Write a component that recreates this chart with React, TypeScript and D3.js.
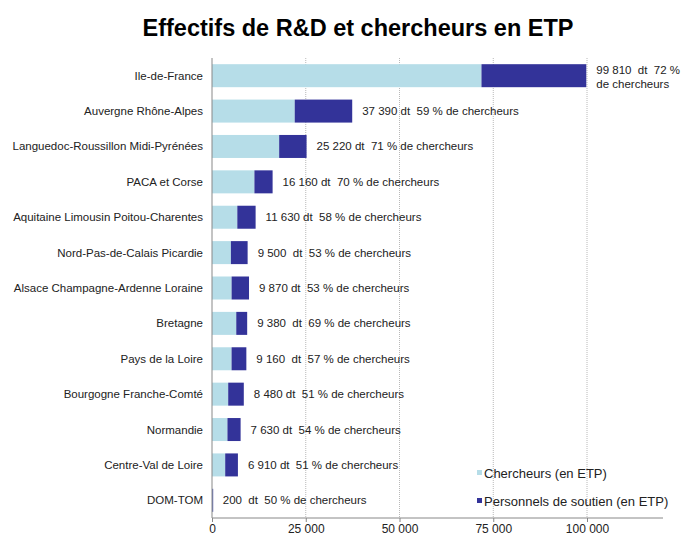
import React, { useEffect, useRef } from 'react';
import * as d3 from 'd3';

const regions = [
  'Ile-de-France',
  'Auvergne Rhône-Alpes',
  'Languedoc-Roussillon Midi-Pyrénées',
  'PACA et Corse',
  'Aquitaine Limousin Poitou-Charentes',
  'Nord-Pas-de-Calais Picardie',
  'Alsace Champagne-Ardenne Loraine',
  'Bretagne',
  'Pays de la Loire',
  'Bourgogne Franche-Comté',
  'Normandie',
  'Centre-Val de Loire',
  'DOM-TOM',
];

// chercheurs (light) and personnels de soutien (dark), in ETP
const chercheurs = [71860, 22060, 17910, 11310, 6750, 5040, 5230, 6470, 5220, 4320, 4120, 3520, 100];
const soutien = [27950, 15330, 7310, 4850, 4880, 4460, 4640, 2910, 3940, 4160, 3510, 3390, 100];

const valueLabels = [
  ['99 810  dt  72 %', 'de chercheurs'],
  ['37 390 dt  59 % de chercheurs'],
  ['25 220 dt  71 % de chercheurs'],
  ['16 160 dt  70 % de chercheurs'],
  ['11 630 dt  58 % de chercheurs'],
  ['9 500  dt  53 % de chercheurs'],
  ['9 870 dt  53 % de chercheurs'],
  ['9 380  dt  69 % de chercheurs'],
  ['9 160  dt  57 % de chercheurs'],
  ['8 480 dt  51 % de chercheurs'],
  ['7 630 dt  54 % de chercheurs'],
  ['6 910 dt  51 % de chercheurs'],
  ['200  dt  50 % de chercheurs'],
];

const xTicks = [0, 25000, 50000, 75000, 100000];
const seriesNames = ['Chercheurs (en ETP)', 'Personnels de soutien (en ETP)'];
const colors = ['#b6dde8', '#333399'];

const App: React.FC = () => {
  const svgRef = useRef<SVGSVGElement>(null);

  useEffect(() => {
    const W = 683, H = 535;
    const left = 212, right = 587, top = 58, bottom = 518;
    const font = "'Liberation Sans', Arial, sans-serif";
    const keepSpaces = (s: string) => s.replace(/ /g, '\u00a0');

    const svg = d3.select(svgRef.current).attr('width', W).attr('height', H);
    svg.selectAll('*').remove();

    const x = d3.scaleLinear().domain([0, 100000]).range([left, right]);
    const y = d3.scaleBand<string>()
      .domain(regions)
      .range([top, bottom])
      .paddingInner(0.35)
      .paddingOuter(0.175);

    const fmt = d3.formatLocale({ decimal: ',', thousands: '\u00a0', grouping: [3], currency: ['', '€'] }).format(',');

    // title
    svg.append('text')
      .attr('x', 358).attr('y', 36)
      .attr('text-anchor', 'middle')
      .attr('font-family', font).attr('font-weight', 'bold').attr('font-size', 23.5)
      .attr('fill', '#000')
      .text('Effectifs de R&D et chercheurs en ETP');

    // gridlines
    svg.append('g').selectAll('line')
      .data(xTicks.slice(1))
      .enter().append('line')
      .attr('x1', d => x(d)).attr('x2', d => x(d))
      .attr('y1', top).attr('y2', bottom)
      .attr('stroke', '#b8b8b8').attr('stroke-width', 1)
      .attr('stroke-dasharray', '1 1');

    // bars
    const stackData = regions.map((r, i) => ({ region: r, c: chercheurs[i], s: soutien[i] }));
    const series = d3.stack<any>().keys(['c', 's'])(stackData);
    svg.append('g').selectAll('g')
      .data(series)
      .enter().append('g')
      .attr('fill', (_, i) => colors[i])
      .selectAll('rect')
      .data(d => d)
      .enter().append('rect')
      .attr('x', d => x(d[0]))
      .attr('y', d => y(d.data.region) || 0)
      .attr('width', d => Math.max(x(d[1]) - x(d[0]), 0.8))
      .attr('height', y.bandwidth());

    // value labels
    const lbl = svg.append('g')
      .attr('font-family', font).attr('font-size', 11.5).attr('fill', '#222');
    regions.forEach((r, i) => {
      const cy = (y(r) || 0) + y.bandwidth() / 2;
      const bx = x(chercheurs[i] + soutien[i]) + 10;
      const lines = valueLabels[i];
      if (lines.length === 1) {
        lbl.append('text').attr('x', bx).attr('y', cy + 4).text(keepSpaces(lines[0]));
      } else {
        lbl.append('text').attr('x', bx).attr('y', cy - 2).text(keepSpaces(lines[0]));
        lbl.append('text').attr('x', bx).attr('y', cy + 12.5).text(keepSpaces(lines[1]));
      }
    });

    // category labels
    svg.append('g').selectAll('text')
      .data(regions)
      .enter().append('text')
      .attr('x', 203)
      .attr('y', d => (y(d) || 0) + y.bandwidth() / 2 + 4)
      .attr('text-anchor', 'end')
      .attr('font-family', font).attr('font-size', 11.5).attr('fill', '#222')
      .text(d => d);

    // y axis line
    svg.append('line')
      .attr('x1', left).attr('x2', left).attr('y1', top).attr('y2', bottom)
      .attr('stroke', '#888');

    // x axis
    const xAxis = svg.append('g')
      .attr('transform', `translate(0,${bottom})`)
      .call(d3.axisBottom(x).tickValues(xTicks).tickSize(4).tickFormat(d => fmt(d as number)));
    xAxis.select('.domain').remove();
    xAxis.selectAll('line').attr('stroke', '#888');
    xAxis.selectAll('text')
      .attr('font-family', font).attr('font-size', 12).attr('fill', '#222')
      .attr('dy', null).attr('y', 15);
    svg.append('line')
      .attr('x1', left).attr('x2', 663).attr('y1', bottom).attr('y2', bottom)
      .attr('stroke', '#888');

    // legend
    const lg = svg.append('g').attr('font-family', font).attr('font-size', 13).attr('fill', '#222');
    seriesNames.forEach((n, i) => {
      const ly = 473 + i * 28;
      lg.append('rect').attr('x', 477).attr('y', ly - 3).attr('width', 5).attr('height', 5).attr('fill', colors[i]);
      lg.append('text').attr('x', 484).attr('y', ly + 4.5).text(n);
    });
  }, []);

  return <svg ref={svgRef} style={{ position: 'absolute', left: 0, top: 0 }}></svg>;
};

export default App;
